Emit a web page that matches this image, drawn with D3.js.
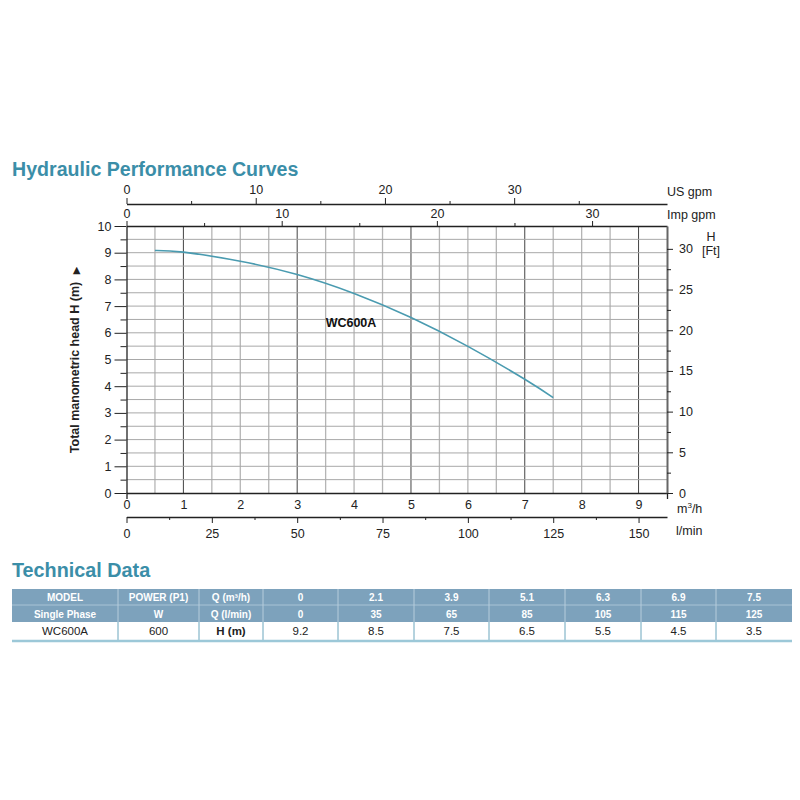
<!DOCTYPE html>
<html>
<head>
<meta charset="utf-8">
<script src="https://cdn.jsdelivr.net/npm/d3@7"></script>
<style>
  body { margin: 0; background: #fff; }
  svg { font-family: "Liberation Sans", Arial, sans-serif; }
</style>
</head>
<body>
<div id="chart"></div>
<script>
// Curve (m3/h -> m)
const curveQ = [0.5, 1, 2, 3, 4, 5, 6, 7, 7.5];
const curveH = [9.08, 9.02, 8.68, 8.18, 7.47, 6.57, 5.49, 4.26, 3.57];
const modelName = "WC600A";

// Tick labels
const m3hTicks = [0, 1, 2, 3, 4, 5, 6, 7, 8, 9];
const lminTicks = [0, 25, 50, 75, 100, 125, 150];
const usTicks = [0, 10, 20, 30];
const impTicks = [0, 10, 20, 30];
const headTicks = [0, 1, 2, 3, 4, 5, 6, 7, 8, 9, 10];
const ftTicks = [0, 5, 10, 15, 20, 25, 30];

// Table
const tableQm3h = ["0", "2.1", "3.9", "5.1", "6.3", "6.9", "7.5"];
const tableQlmin = ["0", "35", "65", "85", "105", "115", "125"];
const tableH = ["9.2", "8.5", "7.5", "6.5", "5.5", "4.5", "3.5"];
const tablePower = "600";

const teal = "#3b8ea8";

const svg = d3.select("#chart")
  .append("svg")
    .attr("width", 800)
    .attr("height", 800);

// Scales (plot area 126..667 x 226..493)
const x = d3.scaleLinear().domain([0, 9.5]).range([126.5, 667]);
const y = d3.scaleLinear().domain([0, 10]).range([493, 226]);
const xUS = d3.scaleLinear().domain([0, 9.5 / 0.227125]).range(x.range());
const xImp = d3.scaleLinear().domain([0, 9.5 / 0.272765]).range(x.range());
const xL = d3.scaleLinear().domain([0, 9.5 * 1000 / 60]).range(x.range());
const yFt = d3.scaleLinear().domain([0, 10 / 0.3048]).range(y.range());

// Title
svg.append("text")
  .attr("x", 12).attr("y", 176)
  .style("font-size", "19.6px").style("font-weight", "bold")
  .attr("fill", teal)
  .text("Hydraulic Performance Curves");

// Grid
const vLines = d3.range(1, 19).map(d => d / 2);
svg.append("g").selectAll("line")
  .data(vLines)
  .enter().append("line")
    .attr("x1", d => x(d)).attr("x2", d => x(d))
    .attr("y1", y(10)).attr("y2", y(0))
    .attr("stroke", d => (d % 2 === 1) ? "#444" : "#b5b5b5")
    .attr("stroke-width", d => (d % 2 === 1) ? 1 : 1.3);

const hLines = d3.range(1, 20).map(d => d / 2);
svg.append("g").selectAll("line")
  .data(hLines)
  .enter().append("line")
    .attr("x1", x(0)).attr("x2", x(9.5))
    .attr("y1", d => y(d)).attr("y2", d => y(d))
    .attr("stroke", "#a8a8a8")
    .attr("stroke-width", 1);

function styleAxis(g, size) {
  g.selectAll("path").attr("stroke", "#222").attr("stroke-width", 1.3);
  g.selectAll("line").attr("stroke", "#222");
  g.selectAll("text")
    .attr("fill", "#222")
    .style("font-family", "Liberation Sans, Arial, sans-serif")
    .style("font-size", (size || 12.5) + "px");
}

// US gpm axis
const gUS = svg.append("g").attr("transform", "translate(0,204)")
  .call(d3.axisTop(xUS).tickValues(usTicks).tickSize(6).tickSizeOuter(0).tickPadding(4));
styleAxis(gUS);
svg.append("g").attr("transform", "translate(0,204)")
  .call(d3.axisTop(xUS).tickValues([5, 15, 25, 35]).tickSize(3).tickFormat("").tickSizeOuter(0))
  .call(g => g.select("path").remove())
  .selectAll("line").attr("stroke", "#222");

// Imp gpm axis (plot top)
const gImp = svg.append("g").attr("transform", `translate(0,${y(10)})`)
  .call(d3.axisTop(xImp).tickValues(impTicks).tickSize(5).tickSizeOuter(0).tickPadding(3));
styleAxis(gImp);
svg.append("g").attr("transform", `translate(0,${y(10)})`)
  .call(d3.axisTop(xImp).tickValues([5, 15, 25]).tickSize(3).tickFormat("").tickSizeOuter(0))
  .call(g => g.select("path").remove())
  .selectAll("line").attr("stroke", "#222");

// m3/h axis (plot bottom)
const gM = svg.append("g").attr("transform", `translate(0,${y(0)})`)
  .call(d3.axisBottom(x).tickValues(m3hTicks).tickSize(0).tickSizeOuter(6).tickPadding(7));
styleAxis(gM);

// l/min axis
const gL = svg.append("g").attr("transform", "translate(0,517)")
  .call(d3.axisBottom(xL).tickValues(lminTicks).tickSize(6).tickSizeOuter(0).tickPadding(6));
styleAxis(gL);
svg.append("g").attr("transform", "translate(0,517)")
  .call(d3.axisBottom(xL).tickValues(d3.range(12.5, 160, 25)).tickSize(3).tickFormat("").tickSizeOuter(0))
  .call(g => g.select("path").remove())
  .selectAll("line").attr("stroke", "#222");

// Head axis (m)
const gH = svg.append("g").attr("transform", `translate(${x(0)},0)`)
  .call(d3.axisLeft(y).tickValues(headTicks).tickSize(12).tickSizeOuter(0).tickPadding(3));
styleAxis(gH);
svg.append("g").attr("transform", `translate(${x(0)},0)`)
  .call(d3.axisLeft(y).tickValues(d3.range(0.5, 10, 1)).tickSize(6).tickFormat("").tickSizeOuter(0))
  .call(g => g.select("path").remove())
  .selectAll("line").attr("stroke", "#222");

// Head axis (ft)
const gF = svg.append("g").attr("transform", `translate(${x(9.5)},0)`)
  .call(d3.axisRight(yFt).tickValues(ftTicks).tickSize(6).tickSizeOuter(0).tickPadding(6));
styleAxis(gF);
gF.select("path").attr("stroke", "#666").attr("stroke-width", 2);
svg.append("g").attr("transform", `translate(${x(9.5)},0)`)
  .call(d3.axisRight(yFt).tickValues(d3.range(2.5, 32, 5)).tickSize(4).tickFormat("").tickSizeOuter(0))
  .call(g => g.select("path").remove())
  .selectAll("line").attr("stroke", "#222");

// Unit labels
const unitLabel = (tx, ty, txt, anchor) => svg.append("text")
  .attr("x", tx).attr("y", ty)
  .attr("text-anchor", anchor || "start")
  .attr("fill", "#222")
  .style("font-size", "12.5px")
  .text(txt);

unitLabel(667, 196, "US  gpm");
unitLabel(667, 219, "Imp gpm");
unitLabel(711, 241, "H", "middle");
unitLabel(711, 255, "[Ft]", "middle");
const m3 = unitLabel(677, 513, "m");
m3.append("tspan").attr("dy", -5).style("font-size", "8px").text("3");
m3.append("tspan").attr("dy", 5).text("/h");
unitLabel(676, 535, "l/min");

// Y axis title
svg.append("text")
  .attr("transform", "rotate(-90)")
  .attr("x", -360)
  .attr("y", 79)
  .attr("text-anchor", "middle")
  .attr("fill", "#222")
  .style("font-size", "12.5px")
  .style("font-weight", "bold")
  .text("Total manometric head H (m)")
  .append("tspan")
    .attr("dx", 8)
    .style("font-size", "9px")
    .text("\u25B6");

// Curve
const line = d3.line()
  .x((d, i) => x(curveQ[i]))
  .y(d => y(d))
  .curve(d3.curveNatural);

svg.append("path")
  .datum(curveH)
  .attr("d", line)
  .attr("fill", "none")
  .attr("stroke", "#4a9bb0")
  .attr("stroke-width", 1.6);

svg.append("text")
  .attr("x", x(3.5)).attr("y", y(6.2))
  .attr("fill", "#111")
  .style("font-size", "12.5px")
  .style("font-weight", "bold")
  .text(modelName);

// Technical data
svg.append("text")
  .attr("x", 12).attr("y", 577)
  .style("font-size", "19.8px").style("font-weight", "bold")
  .attr("fill", teal)
  .text("Technical Data");

const colEdges = [12, 118, 199, 263, 338, 414, 489, 565, 641, 716, 792];
const rowTop = [589, 605, 622];
const rowBottom = [605, 622, 640];

const rows = [
  ["MODEL", "POWER (P1)", "Q (m\u00B3/h)"].concat(tableQm3h),
  ["Single Phase", "W", "Q (l/min)"].concat(tableQlmin),
  [modelName, tablePower, "H (m)"].concat(tableH)
];

const tbl = svg.append("g");
tbl.append("rect")
  .attr("x", colEdges[0]).attr("y", rowTop[0])
  .attr("width", colEdges[10] - colEdges[0]).attr("height", rowBottom[1] - rowTop[0])
  .attr("fill", "#7da2bc");
tbl.append("line")
  .attr("x1", colEdges[0]).attr("x2", colEdges[10])
  .attr("y1", rowTop[1]).attr("y2", rowTop[1])
  .attr("stroke", "#a9c3d5").attr("stroke-width", 1);

colEdges.slice(1, 10).forEach(cx => {
  tbl.append("line")
    .attr("x1", cx).attr("x2", cx)
    .attr("y1", rowTop[0]).attr("y2", rowBottom[1])
    .attr("stroke", "#b7cddc").attr("stroke-width", 1);
  tbl.append("line")
    .attr("x1", cx).attr("x2", cx)
    .attr("y1", rowTop[2]).attr("y2", rowBottom[2])
    .attr("stroke", "#6aa6bd").attr("stroke-width", 1);
});
tbl.append("line")
  .attr("x1", colEdges[0]).attr("x2", colEdges[10])
  .attr("y1", rowBottom[2] + 1).attr("y2", rowBottom[2] + 1)
  .attr("stroke", "#9cc8d8").attr("stroke-width", 2.5);

rows.forEach((r, ri) => {
  r.forEach((txt, ci) => {
    tbl.append("text")
      .attr("x", (colEdges[ci] + colEdges[ci + 1]) / 2)
      .attr("y", (rowTop[ri] + rowBottom[ri]) / 2 + 4)
      .attr("text-anchor", "middle")
      .attr("fill", ri < 2 ? "#fff" : "#222")
      .style("font-size", ri < 2 ? "10px" : "11.5px")
      .style("font-weight", (ri < 2 || ci === 2) ? "bold" : "normal")
      .text(txt);
  });
});
</script>
</body>
</html>
